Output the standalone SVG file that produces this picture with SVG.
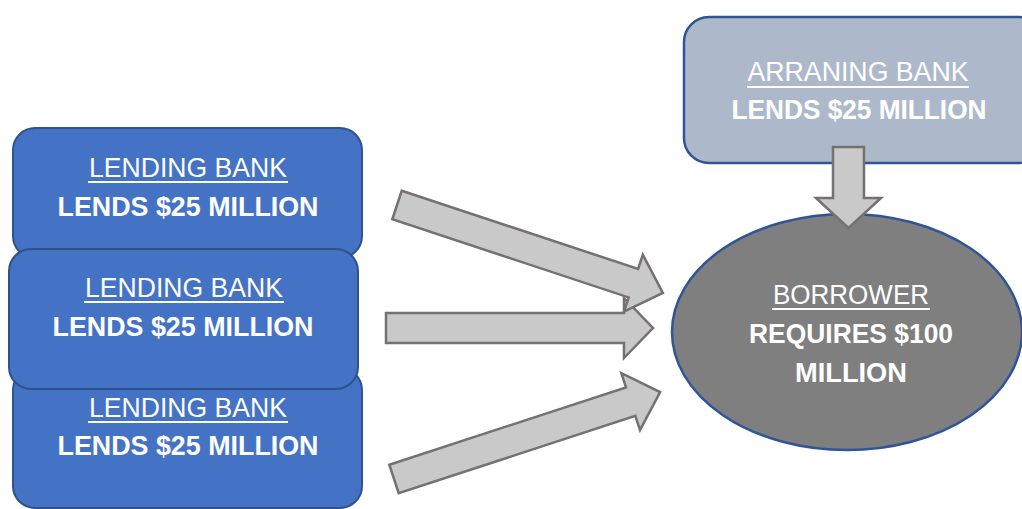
<svg xmlns="http://www.w3.org/2000/svg" width="1022" height="509" viewBox="0 0 1022 509">
<style>
.bank{fill:#4472C4;stroke:#2F528F;stroke-width:2}
.arr{fill:#ADB9CA;stroke:#2F5597;stroke-width:2.5}
.bor{fill:#7F7F7F;stroke:#2F5597;stroke-width:2.5}
.ar{fill:#C9C9C9;stroke:#767171;stroke-width:2.5;stroke-linejoin:miter}
.t{font-family:"Liberation Sans",Arial,sans-serif;font-size:27px;fill:#FFFFFF;text-anchor:middle}
.b{font-weight:bold}
.ul{stroke:#FFFFFF;stroke-width:2}
</style>
<rect width="1022" height="509" fill="#FFFFFF"/>
<g id="lending-bank-3">
<rect class="bank" x="13" y="368" width="349" height="140" rx="22"/>
<text class="t" x="188" y="417" textLength="198" lengthAdjust="spacingAndGlyphs">LENDING BANK</text>
<line class="ul" x1="88" y1="422" x2="288" y2="422"/>
<text class="t b" x="188" y="455" textLength="261" lengthAdjust="spacingAndGlyphs">LENDS $25 MILLION</text>
</g>
<g id="lending-bank-1">
<rect class="bank" x="13" y="128" width="349" height="130" rx="22"/>
<text class="t" x="188" y="177" textLength="198" lengthAdjust="spacingAndGlyphs">LENDING BANK</text>
<line class="ul" x1="88" y1="182" x2="288" y2="182"/>
<text class="t b" x="188" y="216" textLength="261" lengthAdjust="spacingAndGlyphs">LENDS $25 MILLION</text>
</g>
<g id="lending-bank-2">
<rect class="bank" x="9" y="249" width="349" height="140" rx="22"/>
<text class="t" x="184" y="297" textLength="198" lengthAdjust="spacingAndGlyphs">LENDING BANK</text>
<line class="ul" x1="84" y1="302" x2="284" y2="302"/>
<text class="t b" x="183" y="336" textLength="261" lengthAdjust="spacingAndGlyphs">LENDS $25 MILLION</text>
</g>
<g id="arranging-bank">
<rect class="arr" x="684" y="17" width="360" height="146" rx="25"/>
<text class="t" x="858" y="81" textLength="221" lengthAdjust="spacingAndGlyphs">ARRANING BANK</text>
<line class="ul" x1="747" y1="87" x2="969" y2="87"/>
<text class="t b" x="859" y="119" textLength="255" lengthAdjust="spacingAndGlyphs">LENDS $25 MILLION</text>
</g>
<g id="borrower">
<ellipse class="bor" cx="847" cy="332" rx="175" ry="118"/>
<text class="t" x="851" y="304" textLength="156" lengthAdjust="spacingAndGlyphs">BORROWER</text>
<line class="ul" x1="772" y1="309" x2="930" y2="309"/>
<text class="t b" x="851" y="343" textLength="204" lengthAdjust="spacingAndGlyphs">REQUIRES $100</text>
<text class="t b" x="851" y="382" textLength="112" lengthAdjust="spacingAndGlyphs">MILLION</text>
</g>
<g id="connectors">
<polygon class="ar" points="386,313 624,313 624,298 653,328 624,358 624,343 386,343"/>
<polygon class="ar" transform="translate(397,205) rotate(18.3)" points="0,-15 249,-15 249,-30 280,0 249,30 249,15 0,15"/>
<polygon class="ar" transform="translate(394,479) rotate(-18.1)" points="0,-15 249,-15 249,-30 280,0 249,30 249,15 0,15"/>
<polygon class="ar" points="833,147 864,147 864,198 881,198 848.5,228 816,198 833,198"/>
</g>
</svg>
